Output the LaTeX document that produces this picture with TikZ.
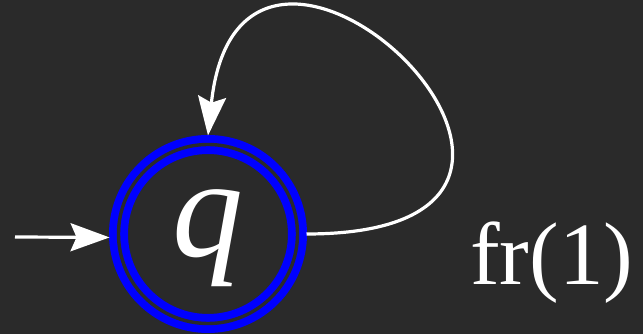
\documentclass[tikz,border=0pt]{standalone}
\usepackage{fontspec}
\setmainfont{Liberation Serif}
\usetikzlibrary{arrows.meta,positioning}
\definecolor{bg}{HTML}{2A2A2A}
\definecolor{ring}{HTML}{0000FF}

\begin{document}
\begin{tikzpicture}[x=1pt,y=1pt,
 accstate/.style={circle,draw=ring,line width=7.8pt,double=bg,double distance=3.4pt,minimum size=179pt,inner sep=0pt,outer sep=9pt,text=white,font=\fontsize{142}{144}\selectfont\itshape,text height=76pt,text depth=30pt},
 lab/.style={text=white,font=\fontsize{89}{90}\selectfont,inner sep=0pt},
 arr/.style={-{Stealth[length=39pt,width=28pt,inset=6pt]},line width=3.2pt,draw=white}]
\fill[bg] (0,0) rectangle (643,334);
\useasboundingbox (0,0) rectangle (643,334);
\node[accstate] (q) at (208,100) {q};
\coordinate (init) at (15,97);
\node[lab,anchor=base west] (lbl) at (470,49) {fr(1)};
\draw[arr] (init) -- (q.182);
\draw[arr] (q.east) to[out=0,in=84,out distance=365pt,in distance=318pt] (q.north);
\end{tikzpicture}
\end{document}
